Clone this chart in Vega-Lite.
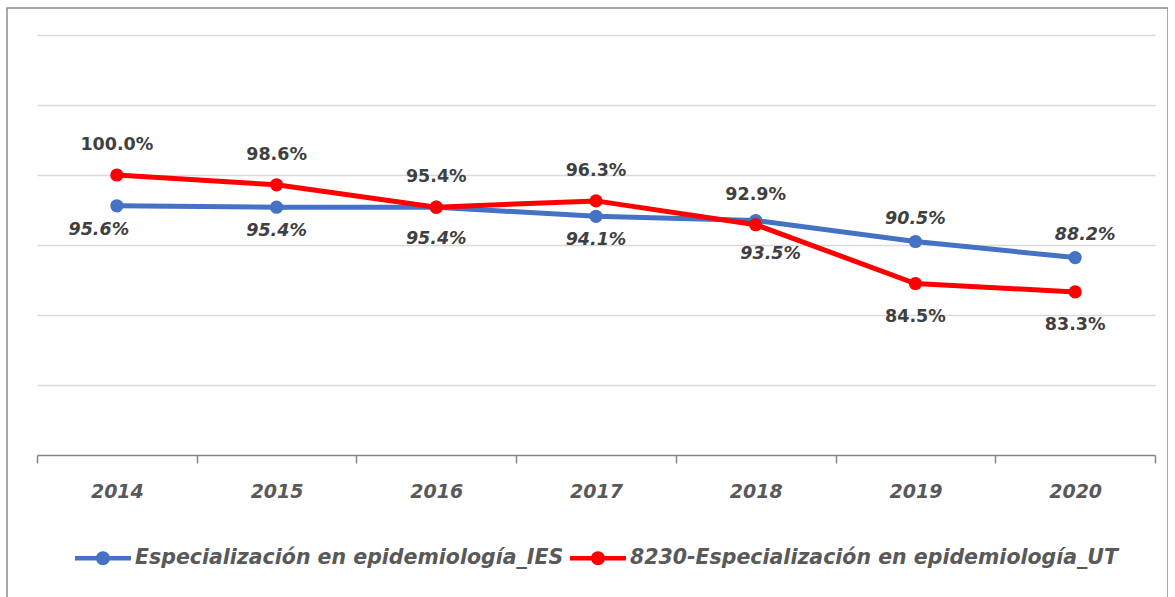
{
  "$schema": "https://vega.github.io/schema/vega-lite/v6.json",
  "width": 1161,
  "height": 592,
  "autosize": {"type": "none"},
  "padding": {"left": 7, "top": 8, "right": 0, "bottom": 0},
  "background": "white",
  "config": {"view": {"stroke": "#8c8c8c", "strokeWidth": 1.5}, "font": "DejaVu Sans"},
  "data": {
    "values": [
      {"year": "2014", "serie": "Especialización en epidemiología_IES", "value": 0.956},
      {"year": "2015", "serie": "Especialización en epidemiología_IES", "value": 0.954},
      {"year": "2016", "serie": "Especialización en epidemiología_IES", "value": 0.954},
      {"year": "2017", "serie": "Especialización en epidemiología_IES", "value": 0.941},
      {"year": "2018", "serie": "Especialización en epidemiología_IES", "value": 0.935},
      {"year": "2019", "serie": "Especialización en epidemiología_IES", "value": 0.905},
      {"year": "2020", "serie": "Especialización en epidemiología_IES", "value": 0.882},
      {"year": "2014", "serie": "8230-Especialización en epidemiología_UT", "value": 1.0},
      {"year": "2015", "serie": "8230-Especialización en epidemiología_UT", "value": 0.986},
      {"year": "2016", "serie": "8230-Especialización en epidemiología_UT", "value": 0.954},
      {"year": "2017", "serie": "8230-Especialización en epidemiología_UT", "value": 0.963},
      {"year": "2018", "serie": "8230-Especialización en epidemiología_UT", "value": 0.929},
      {"year": "2019", "serie": "8230-Especialización en epidemiología_UT", "value": 0.845},
      {"year": "2020", "serie": "8230-Especialización en epidemiología_UT", "value": 0.833}
    ]
  },
  "encoding": {
    "x": {
      "field": "year", "type": "ordinal",
      "scale": {"type": "band", "range": [30, 1148], "paddingInner": 0, "paddingOuter": 0},
      "axis": {
        "title": null, "offset": -145, "tickBand": "extent", "labelAngle": 0,
        "labelFont": "DejaVu Sans", "labelFontSize": 19, "labelFontWeight": "bold", "labelFontStyle": "italic",
        "labelColor": "#595959", "labelPadding": 19, "tickSize": 8, "tickColor": "#868686", "tickWidth": 1.5,
        "domainColor": "#868686", "domainWidth": 1.5, "grid": false
      }
    },
    "y": {
      "field": "value", "type": "quantitative",
      "scale": {"domain": [0.6, 1.2], "range": [447, 27], "nice": false, "zero": false},
      "axis": {
        "title": null, "labels": false, "ticks": false, "domain": false, "grid": true,
        "gridColor": "#d9d9d9", "gridWidth": 1.5, "values": [0.7, 0.8, 0.9, 1.0, 1.1, 1.2]
      }
    },
    "color": {
      "field": "serie", "type": "nominal",
      "scale": {
        "domain": ["Especialización en epidemiología_IES", "8230-Especialización en epidemiología_UT"],
        "range": ["#4472C4", "#FF0000"]
      },
      "legend": {
        "title": null, "orient": "none", "legendX": 68, "legendY": 522, "direction": "horizontal", "columns": 2,
        "padding": 0, "columnPadding": 6, "labelOffset": 4,
        "symbolType": "M-1,-0.08L1,-0.08L1,0.08L-1,0.08Z M0.25,0A0.25,0.25 0 1,1 -0.25,0A0.25,0.25 0 1,1 0.25,0Z",
        "symbolSize": 3136, "symbolStrokeWidth": 0,
        "labelFont": "DejaVu Sans", "labelFontSize": 20.5, "labelFontWeight": "bold", "labelFontStyle": "italic",
        "labelColor": "#595959", "labelLimit": 700,
        "encode": {"symbols": {"update": {"fill": {"scale": "color", "field": "value"}, "strokeWidth": {"value": 0}}}}
      }
    }
  },
  "layer": [
    {
      "transform": [{"filter": "datum.serie === 'Especialización en epidemiología_IES'"}],
      "mark": {"type": "line", "strokeWidth": 5}
    },
    {
      "transform": [{"filter": "datum.serie === 'Especialización en epidemiología_IES'"}],
      "mark": {"type": "point", "filled": true, "opacity": 1, "size": 175, "strokeWidth": 0}
    },
    {
      "transform": [{"filter": "datum.serie === '8230-Especialización en epidemiología_UT'"}],
      "mark": {"type": "line", "strokeWidth": 5}
    },
    {
      "transform": [{"filter": "datum.serie === '8230-Especialización en epidemiología_UT'"}],
      "mark": {"type": "point", "filled": true, "opacity": 1, "size": 175, "strokeWidth": 0}
    },
    {
      "transform": [{"filter": "datum.serie === '8230-Especialización en epidemiología_UT' && datum.year <= '2018'"}],
      "mark": {"type": "text", "dy": -30, "font": "DejaVu Sans", "fontSize": 17.5, "fontWeight": "bold"},
      "encoding": {"text": {"field": "value", "format": ".1%"}, "color": {"value": "#404040"}}
    },
    {
      "transform": [{"filter": "datum.serie === '8230-Especialización en epidemiología_UT' && datum.year >= '2019'"}],
      "mark": {"type": "text", "dy": 33, "font": "DejaVu Sans", "fontSize": 17.5, "fontWeight": "bold"},
      "encoding": {"text": {"field": "value", "format": ".1%"}, "color": {"value": "#404040"}}
    },
    {
      "transform": [{"filter": "datum.serie === 'Especialización en epidemiología_IES' && datum.year == '2014'"}],
      "mark": {"type": "text", "dy": 24, "dx": -18, "font": "DejaVu Sans", "fontSize": 17.5, "fontWeight": "bold", "fontStyle": "italic"},
      "encoding": {"text": {"field": "value", "format": ".1%"}, "color": {"value": "#404040"}}
    },
    {
      "transform": [{"filter": "datum.serie === 'Especialización en epidemiología_IES' && (datum.year == '2015' || datum.year == '2017')"}],
      "mark": {"type": "text", "dy": 24, "font": "DejaVu Sans", "fontSize": 17.5, "fontWeight": "bold", "fontStyle": "italic"},
      "encoding": {"text": {"field": "value", "format": ".1%"}, "color": {"value": "#404040"}}
    },
    {
      "transform": [{"filter": "datum.serie === 'Especialización en epidemiología_IES' && datum.year == '2016'"}],
      "mark": {"type": "text", "dy": 32, "font": "DejaVu Sans", "fontSize": 17.5, "fontWeight": "bold", "fontStyle": "italic"},
      "encoding": {"text": {"field": "value", "format": ".1%"}, "color": {"value": "#404040"}}
    },
    {
      "transform": [{"filter": "datum.serie === 'Especialización en epidemiología_IES' && datum.year == '2018'"}],
      "mark": {"type": "text", "dy": 33, "dx": 15, "font": "DejaVu Sans", "fontSize": 17.5, "fontWeight": "bold", "fontStyle": "italic"},
      "encoding": {"text": {"field": "value", "format": ".1%"}, "color": {"value": "#404040"}}
    },
    {
      "transform": [{"filter": "datum.serie === 'Especialización en epidemiología_IES' && datum.year == '2019'"}],
      "mark": {"type": "text", "dy": -23, "font": "DejaVu Sans", "fontSize": 17.5, "fontWeight": "bold", "fontStyle": "italic"},
      "encoding": {"text": {"field": "value", "format": ".1%"}, "color": {"value": "#404040"}}
    },
    {
      "transform": [{"filter": "datum.serie === 'Especialización en epidemiología_IES' && datum.year == '2020'"}],
      "mark": {"type": "text", "dy": -23, "dx": 10, "font": "DejaVu Sans", "fontSize": 17.5, "fontWeight": "bold", "fontStyle": "italic"},
      "encoding": {"text": {"field": "value", "format": ".1%"}, "color": {"value": "#404040"}}
    }
  ]
}
